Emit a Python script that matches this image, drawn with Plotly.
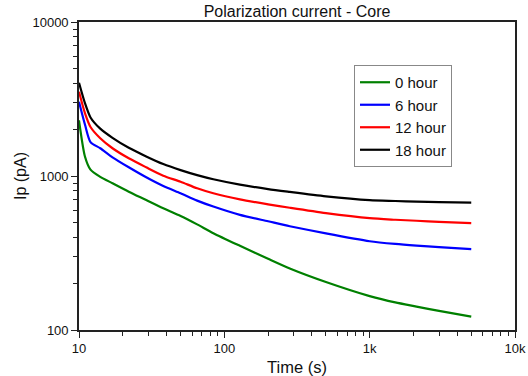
import plotly.graph_objects as go

time_s = [10, 11, 12, 14, 17, 22, 29, 38, 50, 65, 84, 128, 200, 282, 500, 1000, 1500, 2100, 3000, 5000]
ip_0h = [2300, 1334, 1100, 988, 897, 791, 698, 617, 550, 485, 425, 352, 290, 251, 205, 166, 151, 142, 133, 122]
ip_6h = [3035, 2150, 1660, 1514, 1322, 1139, 981, 861, 772, 692, 633, 559, 508, 472, 424, 377, 362, 353, 345, 335]
ip_12h = [3525, 2550, 2080, 1758, 1514, 1303, 1139, 1005, 918, 832, 772, 705, 655, 622, 574, 532, 520, 512, 503, 494]
ip_18h = [4036, 2965, 2400, 2030, 1770, 1525, 1340, 1195, 1092, 1013, 952, 879, 822, 788, 738, 697, 688, 681, 676, 671]

series_names = ["0 hour", "6 hour", "12 hour", "18 hour"]
series_vals = [ip_0h, ip_6h, ip_12h, ip_18h]
series_colors = ["#008000", "#0000ff", "#ff0000", "#000000"]

x_tickvals = [10, 100, 1000, 10000]
x_ticktext = ["10", "100", "1k", "10k"]
y_tickvals = [100, 1000, 10000]
y_ticktext = ["100", "1000", "10000"]

x_minor = [m * 10 ** e for e in (1, 2, 3) for m in range(2, 10)]
y_minor = [m * 10 ** e for e in (2, 3) for m in range(2, 10)]

FONT = "Liberation Sans, Arial, sans-serif"

fig = go.Figure()
for name, vals, col in zip(series_names, series_vals, series_colors):
    fig.add_trace(go.Scatter(x=time_s, y=vals, mode="lines", name=name,
                             line=dict(color=col, width=2.2, shape="spline", smoothing=0.7)))

axis_common = dict(
    type="log", showline=True, linecolor="#222222", linewidth=1.6, mirror=True,
    ticks="outside", ticklen=6, tickwidth=1.3, tickcolor="#222222",
    showgrid=False, zeroline=False, tickmode="array", automargin=False,
    tickfont=dict(family=FONT, size=13, color="#111111"),
)

fig.update_layout(
    width=528, height=376,
    margin=dict(l=79, r=13, t=22, b=46),
    paper_bgcolor="white", plot_bgcolor="white",
    font=dict(family=FONT, color="#111111"),
    title=dict(text="Polarization current - Core", x=297 / 528, xanchor="center",
               y=1 - 11 / 376, yanchor="middle",
               font=dict(family=FONT, size=16, color="#111111")),
    showlegend=True,
    legend=dict(x=(354 - 79) / 436, y=(330 - 65) / 308, xanchor="left", yanchor="top",
                bgcolor="white", bordercolor="#888888", borderwidth=1,
                font=dict(family=FONT, size=15, color="#111111"),
                tracegroupgap=0),
)

fig.update_xaxes(**axis_common, range=[1, 4], tickvals=x_tickvals, ticktext=x_ticktext,
                 minor=dict(tickmode="array", tickvals=x_minor, ticks="outside", ticklen=4,
                            tickwidth=1.2, tickcolor="#222222", showgrid=False),
                 title=dict(text="Time (s)", font=dict(family=FONT, size=16.5, color="#111111"),
                            standoff=8))
fig.update_yaxes(**axis_common, range=[2, 4], tickvals=y_tickvals, ticktext=y_ticktext,
                 minor=dict(tickmode="array", tickvals=y_minor, ticks="outside", ticklen=4,
                            tickwidth=1.2, tickcolor="#222222", showgrid=False),
                 title=dict(text="Ip (pA)", font=dict(family=FONT, size=16, color="#111111"),
                            standoff=2))

fig.write_html("out.html")
